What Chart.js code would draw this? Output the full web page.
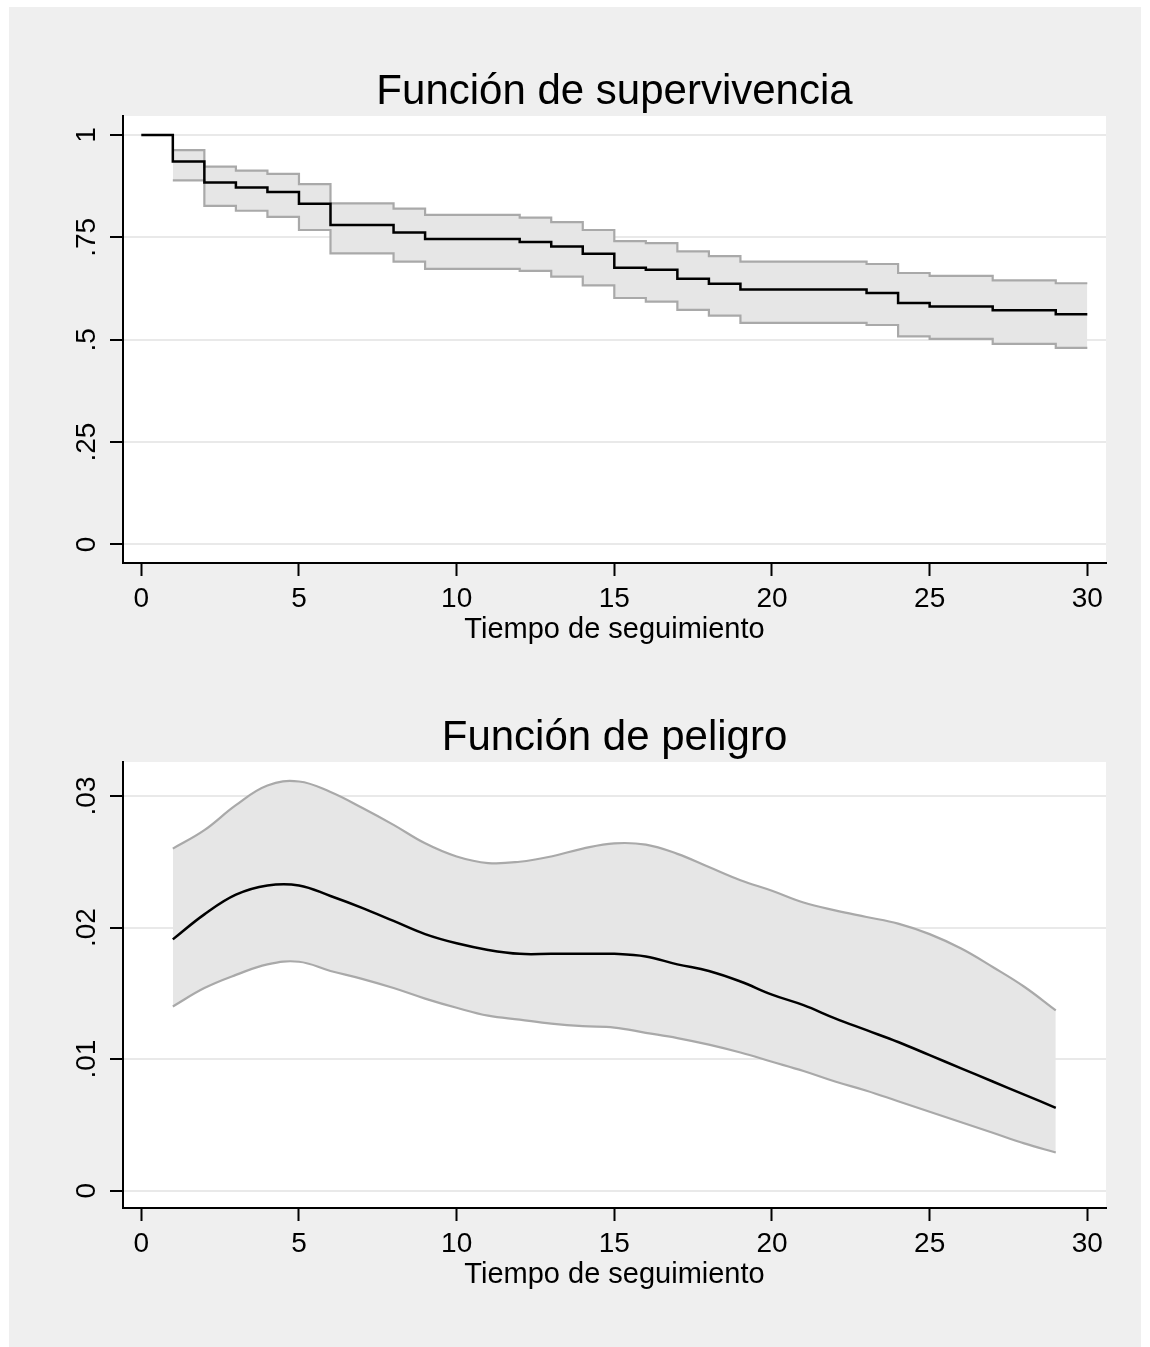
<!DOCTYPE html>
<html>
<head>
<meta charset="utf-8">
<script src="https://cdn.jsdelivr.net/npm/chart.js@4"></script>
<style>
  html, body { margin: 0; padding: 0; background: #ffffff; }
  #frame { position: absolute; left: 9px; top: 7px; width: 1132px; height: 1340px; background: #efefef; }
  canvas { position: absolute; left: 0; }
  #survChart { top: 0; }
  #hazChart { top: 646px; }
</style>
</head>
<body>
<div id="frame"></div>
<canvas id="survChart" width="1150" height="646"></canvas>
<canvas id="hazChart" width="1150" height="701"></canvas>
<script>
// Kaplan-Meier survival estimate (step function) and its confidence band
const survTimes = [0, 1, 2, 3, 4, 5, 6, 8, 9, 12, 13, 14, 15, 16, 17, 18, 19, 23, 24, 25, 27, 29, 30];
const survEst   = [1, 0.935, 0.884, 0.872, 0.861, 0.832, 0.780, 0.762, 0.746, 0.739, 0.728, 0.710,
                   0.676, 0.671, 0.649, 0.637, 0.623, 0.614, 0.590, 0.581, 0.572, 0.562, 0.562];
const bandTimes = [1, 2, 3, 4, 5, 6, 8, 9, 12, 13, 14, 15, 16, 17, 18, 19, 23, 24, 25, 27, 29, 30];
const survUpper = [0.963, 0.923, 0.913, 0.905, 0.880, 0.833, 0.820, 0.805, 0.798, 0.787, 0.768,
                   0.741, 0.736, 0.716, 0.704, 0.691, 0.685, 0.663, 0.656, 0.645, 0.638, 0.638];
const survLower = [0.889, 0.827, 0.815, 0.800, 0.768, 0.711, 0.691, 0.673, 0.668, 0.654, 0.633,
                   0.602, 0.593, 0.573, 0.559, 0.541, 0.536, 0.508, 0.502, 0.490, 0.480, 0.480];

// Smoothed hazard estimate with its confidence band
const hazTimes = [1, 2, 3, 4, 5, 6, 7, 8, 9, 10, 11, 12, 13, 14, 15, 16, 17, 18, 19, 20,
                  21, 22, 23, 24, 25, 26, 27, 28, 29];
const hazEst   = [0.0191, 0.0210, 0.0225, 0.0232, 0.0232, 0.0224, 0.0215, 0.0205, 0.0195, 0.0188,
                  0.0183, 0.0180, 0.0180, 0.0180, 0.0180, 0.0178, 0.0172, 0.0167, 0.0159, 0.0149,
                  0.0141, 0.0131, 0.0122, 0.0113, 0.0103, 0.0093, 0.0083, 0.0073, 0.0063];
const hazUpper = [0.0260, 0.0274, 0.0293, 0.0308, 0.0311, 0.0303, 0.0291, 0.0278, 0.0264, 0.0254,
                  0.0249, 0.0250, 0.0254, 0.0260, 0.0264, 0.0263, 0.0256, 0.0246, 0.0236, 0.0228,
                  0.0219, 0.0213, 0.0208, 0.0203, 0.0195, 0.0184, 0.0170, 0.0155, 0.0137];
const hazLower = [0.0140, 0.0154, 0.0164, 0.0172, 0.0174, 0.0167, 0.0161, 0.0154, 0.0146, 0.0139,
                  0.0133, 0.0130, 0.0127, 0.0125, 0.0124, 0.0120, 0.0116, 0.0111, 0.0105, 0.0098,
                  0.0091, 0.0083, 0.0076, 0.0068, 0.0060, 0.0052, 0.0044, 0.0036, 0.0029];

// Axis ticks
const timeTicks      = [0, 5, 10, 15, 20, 25, 30];
const timeTickLabels = ['0', '5', '10', '15', '20', '25', '30'];
const survTicks      = [0, 0.25, 0.5, 0.75, 1];
const survTickLabels = ['0', '.25', '.5', '.75', '1'];
const hazTicks       = [0, 0.01, 0.02, 0.03];
const hazTickLabels  = ['0', '.01', '.02', '.03'];

const FONT = 'Liberation Sans, Arial, Helvetica, sans-serif';
const BAND_FILL = '#e6e6e6';
const BAND_LINE = '#a9a9a9';
const GRID = '#e9e9e9';

const pts = (xs, ys) => xs.map((x, i) => ({ x, y: ys[i] }));

// White plot region on the grey graph background
const plotBackground = {
  id: 'plotBackground',
  beforeDraw(chart) {
    const { ctx, chartArea: a } = chart;
    ctx.save();
    ctx.fillStyle = '#ffffff';
    ctx.fillRect(a.left, a.top, a.right - a.left, a.bottom - a.top);
    ctx.restore();
  }
};

function timeAxis() {
  return {
    type: 'linear',
    min: -0.58,
    max: 30.593,
    afterBuildTicks: s => { s.ticks = timeTicks.map(v => ({ value: v })); },
    afterFit: s => { s.height = 81; },
    ticks: {
      callback: (v, i) => timeTickLabels[i],
      color: '#000',
      font: { family: FONT, size: 28, lineHeight: 1 },
      padding: 9,
      minRotation: 0,
      maxRotation: 0,
      autoSkip: false
    },
    grid: { drawOnChartArea: false, drawTicks: true, tickLength: 13, tickWidth: 2, tickColor: '#000' },
    border: { display: true, color: '#000', width: 2 },
    title: {
      display: true,
      text: 'Tiempo de seguimiento',
      color: '#000',
      font: { family: FONT, size: 29, lineHeight: 1 },
      padding: 0
    }
  };
}

function valueAxis(min, max, tickVals, tickLabels) {
  return {
    type: 'linear',
    min, max,
    afterBuildTicks: s => { s.ticks = tickVals.map(v => ({ value: v })); },
    afterFit: s => { s.width = 123; },
    ticks: {
      callback: (v, i) => tickLabels[i],
      color: '#000',
      font: { family: FONT, size: 28, lineHeight: 1 },
      padding: 3,
      minRotation: 90,
      maxRotation: 90,
      crossAlign: 'center',
      autoSkip: false
    },
    grid: { color: GRID, lineWidth: 2, drawTicks: true, tickLength: 13, tickWidth: 2, tickColor: '#000' },
    border: { display: true, color: '#000', width: 2 }
  };
}

function baseOptions(title, yAxis, bottomPad) {
  return {
    responsive: false,
    devicePixelRatio: 1,
    animation: false,
    events: [],
    layout: { padding: { left: 0, right: 44, top: 0, bottom: bottomPad } },
    elements: { point: { radius: 0 } },
    plugins: {
      legend: { display: false },
      tooltip: { enabled: false },
      title: {
        display: true,
        text: title,
        fullSize: false,
        color: '#000',
        font: { family: FONT, size: 42, weight: 'normal', lineHeight: 1 },
        padding: { top: 71, bottom: 3 }
      }
    },
    scales: { x: timeAxis(), y: yAxis }
  };
}

new Chart(document.getElementById('survChart'), {
  type: 'line',
  data: {
    datasets: [
      { data: pts(survTimes, survEst), borderColor: '#000', borderWidth: 2.5, stepped: 'before', fill: false },
      { data: pts(bandTimes, survUpper), borderColor: BAND_LINE, borderWidth: 2.2, stepped: 'before', fill: false },
      { data: pts(bandTimes, survLower), borderColor: BAND_LINE, borderWidth: 2.2, stepped: 'before',
        fill: '-1', backgroundColor: BAND_FILL }
    ]
  },
  options: baseOptions('Función de supervivencia', valueAxis(-0.0452, 1.0464, survTicks, survTickLabels), 2),
  plugins: [plotBackground]
});

new Chart(document.getElementById('hazChart'), {
  type: 'line',
  data: {
    datasets: [
      { data: pts(hazTimes, hazEst), borderColor: '#000', borderWidth: 2.5, tension: 0.4, fill: false },
      { data: pts(hazTimes, hazUpper), borderColor: BAND_LINE, borderWidth: 2.2, tension: 0.4, fill: false },
      { data: pts(hazTimes, hazLower), borderColor: BAND_LINE, borderWidth: 2.2, tension: 0.4,
        fill: '-1', backgroundColor: BAND_FILL }
    ]
  },
  options: baseOptions('Función de peligro', valueAxis(-0.001315, 0.03258, hazTicks, hazTickLabels), 58),
  plugins: [plotBackground]
});
</script>
</body>
</html>
